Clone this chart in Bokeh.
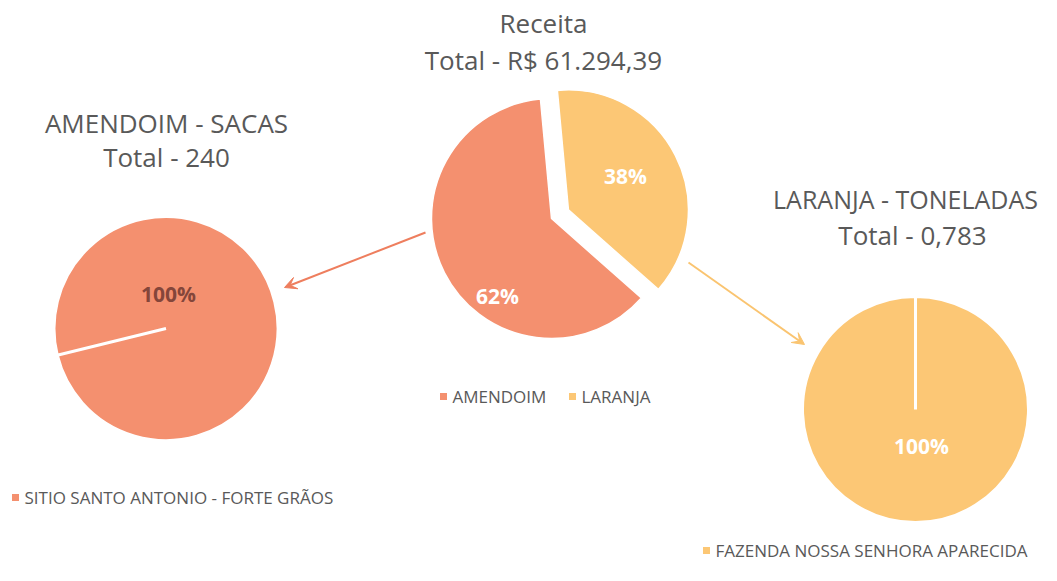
import math
from bokeh.plotting import figure
from bokeh.models import ColumnDataSource, Range1d, Arrow, VeeHead
from bokeh.core.properties import value
from bokeh.embed import file_html
from bokeh.resources import INLINE

# ---------------- data ----------------
receita_categories = ["AMENDOIM", "LARANJA"]
receita_values = [62, 38]
receita_title = ["Receita", "Total - R$ 61.294,39"]

amendoim_categories = ["SITIO SANTO ANTONIO - FORTE GRÃOS"]
amendoim_values = [240]
amendoim_title = ["AMENDOIM - SACAS", "Total - 240"]

laranja_categories = ["FAZENDA NOSSA SENHORA APARECIDA"]
laranja_values = [0.783]
laranja_title = ["LARANJA - TONELADAS", "Total - 0,783"]

# ---------------- style ----------------
ORANGE = "#F4906F"
YELLOW = "#FCC775"
GRAY = "#595959"
FONT = "Open Sans"

W, H = 1041, 565
p = figure(width=W, height=H, x_range=Range1d(0, W), y_range=Range1d(0, H),
           output_backend="svg", toolbar_location=None, min_border=0,
           x_axis_location=None, y_axis_location=None)
p.grid.visible = False
p.outline_line_color = None
p.background_fill_color = "white"
p.border_fill_color = "white"


def pie(values, colors, cx, cy, r, first_deg, explode, lw, label_offsets, label_colors, label_size):
    total = float(sum(values))
    start = math.radians(90 - first_deg)
    xs, ys, st, en, lx, ly, txt = [], [], [], [], [], [], []
    for i, v in enumerate(values):
        sweep = 2 * math.pi * v / total
        # a full 360 degree arc is not drawn by the SVG backend: keep a hair below it
        sweep = min(sweep, 2 * math.pi - 1e-4)
        s, e = start, start - sweep
        mid = (s + e) / 2
        x = cx + explode[i] * math.cos(mid)
        y = cy + explode[i] * math.sin(mid)
        xs.append(x); ys.append(y); st.append(s); en.append(e)
        lx.append(x + label_offsets[i][0]); ly.append(y + label_offsets[i][1])
        txt.append(f"{round(100 * v / total)}%")
        start = e
    src = ColumnDataSource(dict(x=xs, y=ys, s=st, e=en, c=colors))
    p.wedge(x="x", y="y", radius=r, start_angle="s", end_angle="e", direction="clock",
            fill_color="c", line_color="white", line_width=lw, source=src)
    lsrc = ColumnDataSource(dict(x=lx, y=ly, t=txt, c=label_colors))
    p.text(x="x", y="y", text="t", text_color="c", source=lsrc, text_align="center",
           text_baseline="middle", text_font=value(FONT), text_font_style="bold",
           text_font_size=label_size)


def titles(lines, xs, ys, sizes):
    for t, x, y, s in zip(lines, xs, ys, sizes):
        p.text(x=[x], y=[y], text=[t], text_color=GRAY, text_align="center",
               text_baseline="middle", text_font=value(FONT), text_font_size=s)


def legend(labels, colors, mx, my, size):
    p.scatter(x=mx, y=my, marker="square", size=7, fill_color=colors, line_color=None)
    p.text(x=[m + 9 for m in mx], y=my, text=labels, text_color=GRAY, text_align="left",
           text_baseline="middle", text_font=value(FONT), text_font_size=size)


# central pie (Receita)
pie(receita_values, [ORANGE, YELLOW], 551, 347, 120, 131.5, [0, 19], 1.5,
    [(-54, -77), (57, 34)], ["white", "white"], "21px")
titles(receita_title, [543, 543], [543, 506], ["26px", "26px"])
legend(receita_categories, [ORANGE, YELLOW], [443, 572], [169, 169], "17px")

# left pie (Amendoim)
pie(amendoim_values, [ORANGE], 165.5, 237, 112, 256.2, [0], 3,
    [(2.5, 35)], ["#84463A"], "21px")
titles(amendoim_title, [166, 166], [443, 409], ["26px", "26px"])
legend(amendoim_categories, [ORANGE], [15], [68], "17px")

# right pie (Laranja)
pie(laranja_values, [YELLOW], 915, 156, 113, 0, [0], 3,
    [(6, -36)], ["white"], "21px")
titles(laranja_title, [905, 912], [367, 331], ["25px", "26px"])
legend(laranja_categories, [YELLOW], [706], [15], "17px")

# arrows
p.add_layout(Arrow(end=VeeHead(size=12, fill_color="#EE7E5E", line_color="#EE7E5E"),
                   x_start=425, y_start=333, x_end=284, y_end=278,
                   line_color="#EE7E5E", line_width=2))
p.add_layout(Arrow(end=VeeHead(size=12, fill_color="#FAC470", line_color="#FAC470"),
                   x_start=688, y_start=303, x_end=804, y_end=221,
                   line_color="#FAC470", line_width=2))

open("out.html", "w").write(file_html(p, INLINE))
